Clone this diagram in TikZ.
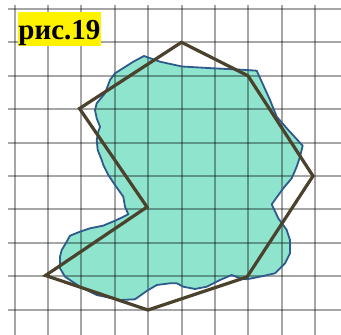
\documentclass[tikz,border=0pt]{standalone}
\usepackage{fontspec}
\setmainfont{Liberation Serif}
\usepackage{tikz}
\definecolor{blobfill}{RGB}{142,228,205}
\definecolor{blobline}{RGB}{46,90,140}
\definecolor{polyline}{RGB}{75,66,45}

\begin{document}
\begin{tikzpicture}[
  x=1pt, y=-1pt,
  gridline/.style={black, opacity=0.35, line width=2pt},
  blob/.style={draw=blobline, fill=blobfill, line width=1.8pt, line join=round},
  figure/.style={draw=polyline, line width=3.2pt, line join=miter},
  caption/.style={fill=yellow, inner xsep=1pt, inner ysep=0pt, text height=27pt, text depth=6.4pt, font=\fontsize{29}{30}\selectfont\bfseries}
]
\useasboundingbox (0,0) rectangle (341,335);
\fill[blobfill] (144,56) -- (160,61.7) -- (182,66.5) -- (213.3,68.3) -- (246.7,70) -- (256.7,70.7)
  -- (261.7,81.7) -- (270,100) -- (276.7,116.7) -- (288.3,130) -- (302.7,145.7) -- (300,156.7)
  -- (296.7,166.7) -- (291.7,178.3) -- (283.3,188.3) -- (271.7,204.3) -- (278.3,218.3) -- (286.7,230)
  -- (290,240) -- (290,253.3) -- (285,263.3) -- (275,273.3) -- (263.3,276) -- (246.7,279.3)
  -- (240,278.3) -- (231.7,275) -- (220,280) -- (206.7,286.7) -- (195,289) -- (183.3,286.7)
  -- (176.7,283.3) -- (170,283.3) -- (156.7,285) -- (146.7,291) -- (135,299.3) -- (120,300)
  -- (96.7,295) -- (80,286.7) -- (65,276.7) -- (60,268.3) -- (60,256.7) -- (61.7,250)
  -- (66.7,241.7) -- (70,235.7) -- (80,231.7) -- (90,228.3) -- (103,225.7) -- (116.7,220)
  -- (128.3,214.3) -- (125,206.7) -- (123.3,196.7) -- (115,185) -- (108.3,175) -- (103.3,165)
  -- (101.7,160) -- (97.7,150) -- (96.7,140) -- (98.3,131.7) -- (100,126.7) -- (96.7,118.3)
  -- (95,110) -- (96.7,103.3) -- (105,93.3) -- (110,80) -- (115,73.3) -- (133.3,61.7) -- cycle;
\foreach \k in {0,...,9} {
  \draw[gridline] ({14.5+33.4*\k},5) -- ({14.5+33.4*\k},335);
  \draw[gridline] (8,{8.9+33.4*\k}) -- (341,{8.9+33.4*\k});
}
\draw[blob, fill=none] (144,56) -- (160,61.7) -- (182,66.5) -- (213.3,68.3) -- (246.7,70) -- (256.7,70.7)
  -- (261.7,81.7) -- (270,100) -- (276.7,116.7) -- (288.3,130) -- (302.7,145.7) -- (300,156.7)
  -- (296.7,166.7) -- (291.7,178.3) -- (283.3,188.3) -- (271.7,204.3) -- (278.3,218.3) -- (286.7,230)
  -- (290,240) -- (290,253.3) -- (285,263.3) -- (275,273.3) -- (263.3,276) -- (246.7,279.3)
  -- (240,278.3) -- (231.7,275) -- (220,280) -- (206.7,286.7) -- (195,289) -- (183.3,286.7)
  -- (176.7,283.3) -- (170,283.3) -- (156.7,285) -- (146.7,291) -- (135,299.3) -- (120,300)
  -- (96.7,295) -- (80,286.7) -- (65,276.7) -- (60,268.3) -- (60,256.7) -- (61.7,250)
  -- (66.7,241.7) -- (70,235.7) -- (80,231.7) -- (90,228.3) -- (103,225.7) -- (116.7,220)
  -- (128.3,214.3) -- (125,206.7) -- (123.3,196.7) -- (115,185) -- (108.3,175) -- (103.3,165)
  -- (101.7,160) -- (97.7,150) -- (96.7,140) -- (98.3,131.7) -- (100,126.7) -- (96.7,118.3)
  -- (95,110) -- (96.7,103.3) -- (105,93.3) -- (110,80) -- (115,73.3) -- (133.3,61.7) -- cycle;
\coordinate (v1) at (181.5,42.3);
\coordinate (v2) at (248,75.8);
\coordinate (v3) at (313,176);
\coordinate (v4) at (247,277);
\coordinate (v5) at (148,310);
\coordinate (v6) at (45.5,275.5);
\coordinate (v7) at (147,207);
\coordinate (v8) at (79.5,108.5);
\draw[figure] (v1) -- (v2) -- (v3) -- (v4) -- (v5) -- (v6) -- (v7) -- (v8) -- cycle;
\node[caption, anchor=base west] (title) at (17.3,39.3) {рис.19};
\end{tikzpicture}
\end{document}
